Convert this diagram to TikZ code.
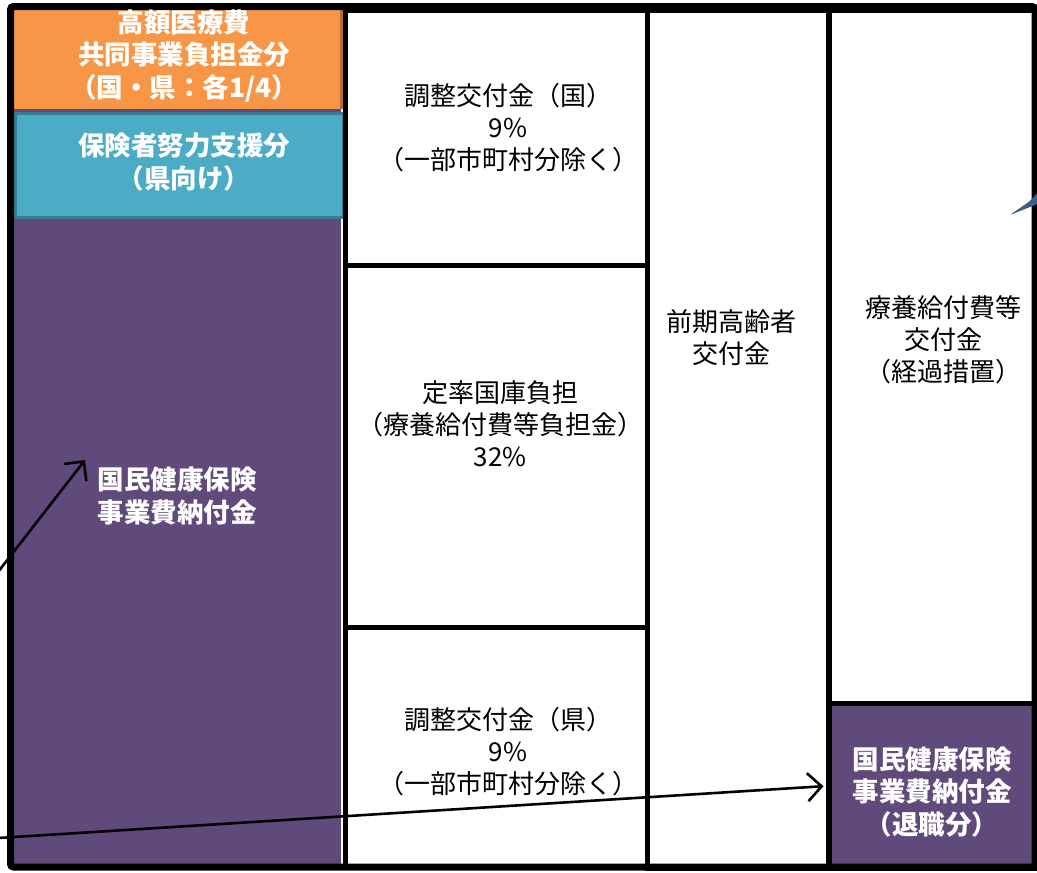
\documentclass[tikz,border=0pt]{standalone}
\usepackage{fontspec}
\setmainfont{Noto Sans CJK JP}
\usetikzlibrary{arrows.meta}
\definecolor{kpurple}{HTML}{604A7B}
\definecolor{korange}{HTML}{F79646}
\definecolor{korangedk}{HTML}{B66D31}
\definecolor{kteal}{HTML}{4BACC6}
\definecolor{ktealdk}{HTML}{357D91}
\definecolor{kblue}{HTML}{3A5F8D}
\tikzset{
  cell/.style={draw=black, line width=5pt, rectangle, inner sep=0pt, anchor=north west},
  wtxt/.style={align=center, text=black, font=\fontsize{26}{32}\selectfont, inner sep=2pt},
  ctxt/.style={align=center, text=white, font=\fontsize{26.5}{32.5}\selectfont\bfseries, inner sep=2pt},
  arr/.style={line width=2.6pt, -{Straight Barb[length=14pt,width=28pt,line width=2.6pt]}},
}
\begin{document}
\begin{tikzpicture}[x=1pt,y=-1pt]
\useasboundingbox (0,0) rectangle (1037,873);
\fill[white] (0,0) rectangle (1037,873);
% left column
\node[fill=kpurple, rectangle, inner sep=0pt, anchor=north west, minimum width=328pt, minimum height=855pt] (lcol) at (13,9) {};
\node[fill=korange, rectangle, inner sep=0pt, anchor=north west, minimum width=328pt, minimum height=100pt] (orng) at (13,9) {};
\draw[korangedk, line width=3pt] (orng.north east) -- (orng.south east);
\node[fill=kteal, draw=ktealdk, line width=3pt, rectangle, inner sep=0pt, anchor=north west, minimum width=328pt, minimum height=104pt] (teal) at (13.5,111.5) {};
% column 2
\node[cell, fill=white, minimum width=302pt, minimum height=255pt] (c2a) at (343,8) {};
\node[cell, fill=white, minimum width=302pt, minimum height=362pt] (c2b) at (343,263) {};
\node[cell, fill=white, minimum width=302pt, minimum height=240pt] (c2c) at (343,625) {};
% column 3
\node[cell, fill=white, minimum width=181pt, minimum height=858pt] (c3) at (645,8) {};
% column 4
\node[cell, fill=white, minimum width=209pt, minimum height=693pt] (c4a) at (826.5,8) {};
\node[cell, fill=kpurple, minimum width=209pt, minimum height=165pt] (c4b) at (826.5,701) {};
% outer frame
\draw[black, line width=7pt, rounded corners=3pt] (10.5,6.5) rectangle (1035,867);
% labels
\node[ctxt] (t1) at (184,56) {高額医療費\\共同事業負担金分\\（国・県：各1/4）};
\node[ctxt] (t2) at (184,162) {保険者努力支援分\\（県向け）};
\node[ctxt] (t3) at (177,496) {国民健康保険\\事業費納付金};
\node[wtxt] (t4) at (508,128) {調整交付金（国）\\9\%\\（一部市町村分除く）};
\node[wtxt] (t5) at (500,424) {定率国庫負担\\（療養給付費等負担金）\\32\%};
\node[wtxt] (t6) at (508,752) {調整交付金（県）\\9\%\\（一部市町村分除く）};
\node[wtxt] (t7) at (731,338) {前期高齢者\\交付金};
\node[wtxt] (t8) at (943,340) {療養給付費等\\交付金\\（経過措置）};
\node[ctxt] (t9) at (932,792) {国民健康保険\\事業費納付金\\（退職分）};
% arrows
\coordinate (a1s) at (-2,572);
\coordinate (a1t) at (85,460);
\draw[arr] (a1s) -- (a1t);
\coordinate (a2s) at (-2,838);
\draw[arr, shorten >=3pt] (a2s) -- (c4b.west);
% blue fragment at top right
\coordinate (b1) at (1010,215);
\coordinate (b2) at (1030,201);
\coordinate (b3) at (1040,190);
\coordinate (b4) at (1040,203);
\fill[kblue, rounded corners=2pt] (b1) -- (b2) -- (b3) -- (b4) -- cycle;
\end{tikzpicture}
\end{document}
